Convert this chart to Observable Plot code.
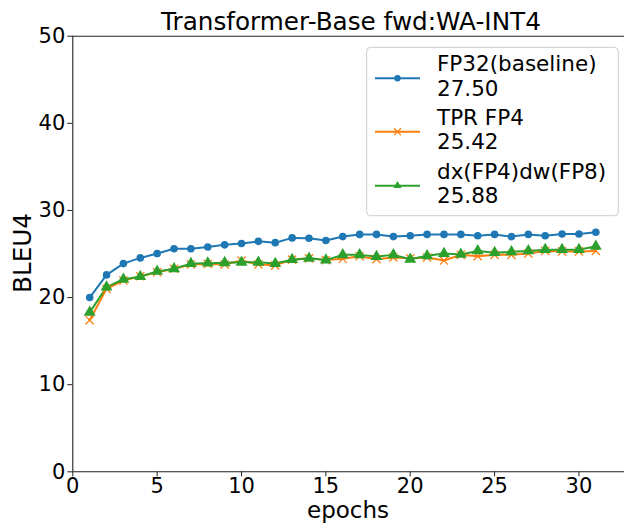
<!DOCTYPE html>
<html><head><meta charset="utf-8">
<script src="https://cdn.jsdelivr.net/npm/d3@7"></script>
<script src="https://cdn.jsdelivr.net/npm/@observablehq/plot@0.6"></script>
<style>body{margin:0;background:#fff} svg, svg text{font-family:'DejaVu Sans', sans-serif !important;}</style>
</head><body><div id="chart"></div>
<script>
const epochs = [1,2,3,4,5,6,7,8,9,10,11,12,13,14,15,16,17,18,19,20,21,22,23,24,25,26,27,28,29,30,31];
const fp32 = [20.0,22.6,23.9,24.55,25.05,25.6,25.6,25.8,26.05,26.2,26.45,26.3,26.85,26.8,26.55,27.0,27.25,27.25,27.0,27.1,27.25,27.25,27.25,27.1,27.25,27.0,27.25,27.1,27.3,27.3,27.5];
const tprFp4 = [17.4,21.0,21.95,22.45,22.9,23.3,23.8,23.85,23.8,24.25,23.8,23.7,24.35,24.5,24.3,24.45,24.75,24.4,24.6,24.5,24.6,24.25,24.9,24.75,24.9,24.9,25.05,25.35,25.3,25.3,25.35];
const dxdw = [18.3,21.2,22.1,22.4,23.0,23.3,23.9,23.95,24.0,24.05,24.05,23.9,24.35,24.5,24.3,24.9,24.9,24.7,24.9,24.4,24.8,25.05,24.95,25.35,25.15,25.25,25.35,25.5,25.5,25.5,25.88];
const seriesNames = ["FP32(baseline)", "TPR FP4", "dx(FP4)dw(FP8)"];
const finalScores = ["27.50", "25.42", "25.88"];
const colors = ["#1f77b4", "#ff7f0e", "#2ca02c"];
const xTicks = [0,5,10,15,20,25,30];
const yTicks = [0,10,20,30,40,50];
const title = "Transformer-Base fwd:WA-INT4";
const xLabel = "epochs";
const yLabel = "BLEU4";

const seriesValues = [fp32, tprFp4, dxdw];
const table = seriesValues.flatMap((vals, i) => vals.map((v, j) => ({epoch: epochs[j], value: v, series: seriesNames[i]})));
const sub = (name) => table.filter(d => d.series === name);

const W = 624, H = 524, mL = 72.3, mR = 0, mT = 35.7, mB = 52.7;
const FF = "'DejaVu Sans', sans-serif";

const chart = Plot.plot({
  width: W, height: H,
  marginLeft: mL, marginRight: mR, marginTop: mT, marginBottom: mB,
  style: {fontFamily: FF, fontSize: "21px", background: "white", color: "black", overflow: "visible"},
  x: {domain: [0, 32.7], label: null},
  y: {domain: [0, 50], label: null},
  marks: [
    Plot.axisX({ticks: xTicks, tickSize: 5, tickPadding: 0.8, fontSize: 21, label: null, stroke: "#222"}),
    Plot.axisY({ticks: yTicks, tickSize: 5, tickPadding: 2.5, fontSize: 21, label: null, stroke: "#222"}),
    Plot.ruleY([0], {stroke: "#222", strokeWidth: 1.1}),
    Plot.ruleY([50], {stroke: "#222", strokeWidth: 1.1}),
    Plot.ruleX([0], {stroke: "#222", strokeWidth: 1.1}),
    Plot.line(sub(seriesNames[0]), {x: "epoch", y: "value", stroke: colors[0], strokeWidth: 2}),
    Plot.line(sub(seriesNames[1]), {x: "epoch", y: "value", stroke: colors[1], strokeWidth: 2}),
    Plot.line(sub(seriesNames[2]), {x: "epoch", y: "value", stroke: colors[2], strokeWidth: 2}),
    Plot.dot(sub(seriesNames[0]), {x: "epoch", y: "value", fill: colors[0], r: 3.8, symbol: "circle"}),
    Plot.dot(sub(seriesNames[1]), {x: "epoch", y: "value", stroke: colors[1], r: 3.8, symbol: "times", strokeWidth: 1.3}),
    Plot.dot(sub(seriesNames[2]), {x: "epoch", y: "value", fill: colors[2], r: 4.4, symbol: "triangle"})
  ]
});

const svg = d3.select(chart);
const addText = (x, y, size, txt, anchor) => svg.append("text").attr("x", x).attr("y", y)
  .attr("text-anchor", anchor).attr("font-family", FF).attr("font-size", size).attr("fill", "black").text(txt);
// title
addText(351, 29.5, 24.7, title, "middle");
// axis labels
addText(348, 518.3, 23, xLabel, "middle");
svg.append("text").attr("transform", "translate(31,253) rotate(-90)").attr("text-anchor", "middle")
  .attr("font-family", FF).attr("font-size", 24.7).attr("fill", "black").text(yLabel);

// legend
const lg = svg.append("g");
lg.append("rect").attr("x", 366.7).attr("y", 47.3).attr("width", 251.6).attr("height", 168.4)
  .attr("rx", 4).attr("fill", "white").attr("fill-opacity", 0.8).attr("stroke", "#cccccc").attr("stroke-width", 1);
const rowY = [78.3, 131.7, 185.7];
const baseY = [71.3, 124.6, 178.6];
const symbols = [d3.symbolCircle, d3.symbolTimes, d3.symbolTriangle];
seriesNames.forEach((name, i) => {
  lg.append("line").attr("x1", 375).attr("x2", 420).attr("y1", rowY[i]).attr("y2", rowY[i])
    .attr("stroke", colors[i]).attr("stroke-width", 2);
  const sym = lg.append("path").attr("transform", `translate(397.5,${rowY[i]})`)
    .attr("d", d3.symbol(symbols[i], i === 2 ? 30 : 32)());
  if (i === 1) sym.attr("fill", "none").attr("stroke", colors[i]).attr("stroke-width", 1.3);
  else sym.attr("fill", colors[i]);
  const t = lg.append("text").attr("x", 437).attr("y", baseY[i]).attr("text-anchor", "start").attr("font-family", FF)
    .attr("font-size", 21.5).attr("fill", "black");
  t.append("tspan").attr("x", 437).text(name);
  t.append("tspan").attr("x", 437).attr("dy", 24.6).text(finalScores[i]);
});

document.getElementById("chart").appendChild(chart);
</script></body></html>
